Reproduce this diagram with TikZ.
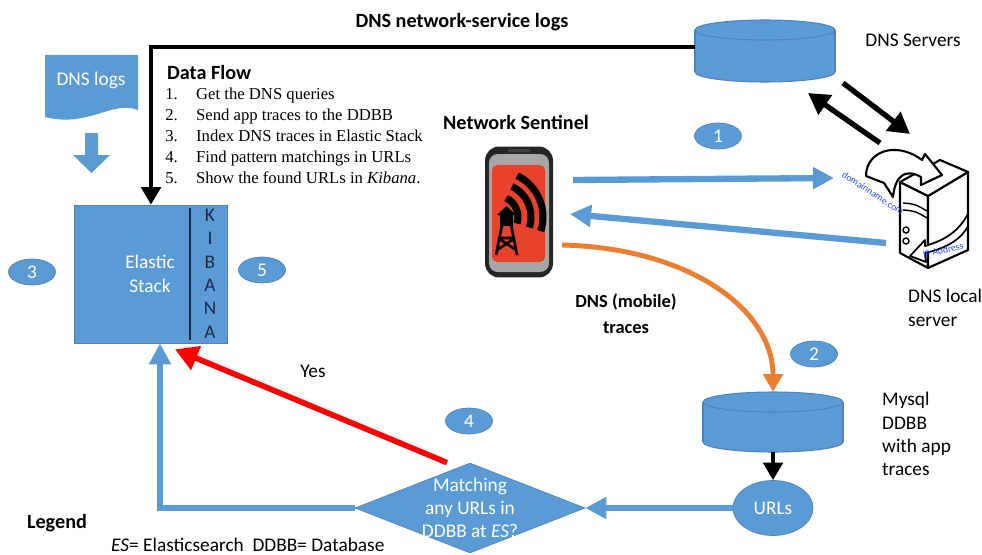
\documentclass[tikz,border=0pt]{standalone}
\usepackage{fontspec}
\setmainfont{Carlito}
\newfontfamily\serifflow{Liberation Serif}
\usetikzlibrary{shapes.geometric,arrows.meta}

\definecolor{boxblue}{HTML}{5B9BD5}
\definecolor{boxedge}{HTML}{4F81BD}
\definecolor{traceorange}{HTML}{ED7D31}
\definecolor{screenred}{HTML}{E8412C}
\definecolor{kibtext}{HTML}{1F2A44}
\definecolor{urlblue}{HTML}{2A4BF0}

\begin{document}
\begin{tikzpicture}[x=0.02cm,y=-0.02cm,font=\fontsize{11}{13.4}\selectfont]
    \tikzstyle{arrow} = [line width=2.8pt,-{Triangle[length=10pt,width=11pt]}]
    \tikzstyle{flow} = [arrow,boxblue,line width=3.6pt,-{Triangle[length=12pt,width=12pt]}]
    \tikzstyle{stepnum} = [ellipse,fill=boxblue,draw=boxedge,text=white,minimum width=0.94cm,minimum height=0.52cm,inner sep=0pt]
    \tikzstyle{db} = [fill=boxblue,draw=boxedge,line width=0.6pt]
    \tikzstyle{heading} = [font=\bfseries\fontsize{11.5}{14}\selectfont]

    \useasboundingbox (0,0) rectangle (982,554);
    \fill[white] (0,0) rectangle (982,554);

    % DNS servers
    \draw[db] (765,72) ellipse [x radius=70,y radius=10];
    \fill[boxblue] (695,30) rectangle (835,72);
    \draw[boxedge,line width=0.6pt] (695,30) -- (695,72) (835,30) -- (835,72);
    \draw[db] (765,30) ellipse [x radius=70,y radius=10];
    \node[minimum width=2.8cm,minimum height=1.24cm] (dnsservers) at (765,51) {};
    \node (dnsserverslbl) at (913,40) {DNS Servers};
    \node[heading] (title) at (462,22) {DNS network-service logs};

    % DNS logs feeding the stack
    \fill[boxblue] (45,55) -- (138,55) -- (138,110) .. controls (112,100) and (88,128) .. (45,117) -- cycle;
    \node[text=white] (dnslogs) at (91,80) {DNS logs};
    \fill[boxblue] (85,133) -- (98,133) -- (98,155) -- (110,155) -- (91.5,173) -- (73,155) -- (85,155) -- cycle;

    % data flow steps
    \node[heading,anchor=west] (flowhead) at (161,72) {Data Flow};
    \node[anchor=north west,inner sep=0pt,align=left,font=\serifflow\fontsize{9.5}{11.9}\selectfont] (flowlist) at (165,88) {%
        \makebox[17.5pt][l]{1.}Get the DNS queries\\
        \makebox[17.5pt][l]{2.}Send app traces to the DDBB\\
        \makebox[17.5pt][l]{3.}Index DNS traces in Elastic Stack\\
        \makebox[17.5pt][l]{4.}Find pattern matchings in URLs\\
        \makebox[17.5pt][l]{5.}Show the found URLs in \textit{Kibana}.};

    % Elastic Stack + Kibana
    \node[fill=boxblue,draw=boxedge,minimum width=3.06cm,minimum height=2.76cm] (elastic) at (151,274) {};
    \draw[kibtext,line width=1pt] (190,208) -- (190,340);
    \node[text=white,align=center] (elastictxt) at (150,274) {Elastic\\Stack};
    \foreach \letter [count=\i] in {K,I,B,A,N,A}
        \node[kibtext,inner sep=0pt] (kib\i) at (210,{192+23.3*\i}) {\letter};

    \draw[arrow] (dnsservers.west |- 0,47) -| (elastic.north);

    % step numbers
    \node[stepnum] (s1) at (718,136) {1};
    \node[stepnum] (s2) at (814,354) {2};
    \node[stepnum] (s3) at (32,272) {3};
    \node[stepnum] (s4) at (469,421) {4};
    \node[stepnum] (s5) at (262,270) {5};

    % phone running Network Sentinel
    \node[heading] (sentinel) at (516,122) {Network Sentinel};
    \node[fill=black!85,rounded corners=8pt,minimum width=1.36cm,minimum height=2.62cm] (phone) at (519,212) {};
    \fill[black!35,rounded corners=5pt] (489,154) rectangle (549,272);
    \fill[black!75] (508,149) rectangle (530,152);
    \fill[screenred,rounded corners=3pt] (492,165) rectangle (545,262);
    \draw[line width=1.5pt] (496,255) -- (502,225) (517,255) -- (511,225)
        (497,250) -- (515,238) (516,250) -- (498,238) (499,238) -- (514,238);
    \fill (500,214) rectangle (513,226);
    \fill (497,215) -- (506.5,206) -- (516,215) -- cycle;
    \foreach \r in {21,34,46}
        \draw[line width=4pt] (497,217) ++(-64:\r) arc (-64:18:\r);

    % DNS local server
    \node[minimum width=1.4cm,minimum height=2.2cm] (localsrv) at (934,214) {};
    \draw[line width=1.2pt,fill=white,line join=round] (900,182) -- (928,196) -- (928,268) -- (900,253) -- cycle;
    \draw[line width=1.2pt,fill=white,line join=round] (928,196) -- (968,172) -- (968,250) -- (928,268) -- cycle;
    \draw[line width=1.2pt,fill=white,line join=round] (900,182) -- (940,160) -- (968,172) -- (928,196) -- cycle;
    \draw[line width=0.8pt] (903,203) .. controls (915,204) .. (927,211) (903,210) .. controls (915,211) .. (927,218);
    \draw[line width=0.8pt] (906,230) circle [radius=3] (906,241) circle [radius=3];
    \draw[line width=1.2pt,fill=white,line join=round] (866,176) .. controls (866,152) and (895,140) .. (922,160)
        -- (925,154) -- (942,175) -- (921,185) -- (921,177) .. controls (905,168) and (895,176) .. (893,197)
        -- (884,183) -- cycle;
    \draw[line width=1pt,fill=white,line join=round] (968,214) .. controls (958,232) and (945,240) .. (925,246)
        -- (925,240) -- (910,256) -- (926,262) -- (925,253) .. controls (948,248) and (962,238) .. (968,226) -- cycle;
    \node[urlblue,rotate=-33,inner sep=0pt,font=\fontsize{5.5}{6}\selectfont] (domain) at (873,193) {domainname.com};
    \node[urlblue,rotate=13,inner sep=0pt,font=\fontsize{5.5}{6}\selectfont] (ipaddr) at (943,250) {IP Address};
    \node[anchor=west,align=left,font=\fontsize{11}{13.6}\selectfont] (locallbl) at (902,308) {DNS local\\server};

    % query / answer between phone and local server
    \coordinate (qrystart) at (573,180);
    \coordinate (qryend) at (834,178);
    \coordinate (ansstart) at (886,243);
    \coordinate (ansend) at (570,214);
    \draw[flow] (qrystart) -- (qryend);
    \draw[flow] (ansstart) -- (ansend);

    % local server <-> DNS servers
    \coordinate (fwdstart) at (843,83);
    \coordinate (fwdend) at (910,134);
    \coordinate (backstart) at (880,143);
    \coordinate (backend) at (808,93);
    \draw[arrow,line width=3pt,-{Triangle[length=12pt,width=13pt]}] (fwdstart) -- (fwdend);
    \draw[arrow,line width=3pt,-{Triangle[length=12pt,width=13pt]}] (backstart) -- (backend);

    % Mysql DDBB
    \draw[db] (773,442) ellipse [x radius=70,y radius=10];
    \fill[boxblue] (703,402) rectangle (843,442);
    \draw[boxedge,line width=0.6pt] (703,402) -- (703,442) (843,402) -- (843,442);
    \draw[db] (773,402) ellipse [x radius=70,y radius=10];
    \node[minimum width=2.8cm,minimum height=1.2cm] (mysql) at (773,422) {};
    \node[anchor=north west,align=left,font=\fontsize{11}{13.3}\selectfont] (mysqllbl) at (876,386) {Mysql\\DDBB\\with app\\traces};

    % traces from the phone to Mysql
    \coordinate (tracestart) at (562,245);
    \draw[arrow,traceorange] (tracestart) .. controls (690,248) and (773,310) .. (mysql.north);
    \node[font=\bfseries\fontsize{10.5}{14.7}\selectfont,align=center] (traceslbl) at (626,314) {DNS (mobile)\\traces};

    % URLs and the matching test
    \node[ellipse,fill=boxblue,draw=boxedge,text=white,minimum width=1.6cm,minimum height=1.1cm,inner sep=0pt] (urls) at (773,508) {URLs};
    \draw[arrow] (mysql.south) -- (urls.north);
    \node[diamond,fill=boxblue,draw=boxedge,minimum width=4.6cm,minimum height=1.8cm,inner sep=0pt] (match) at (470,508) {};
    \node[text=white,align=center,font=\fontsize{11}{13}\selectfont] (matchtxt) at (470,508) {Matching\\any URLs in\\DDBB at \textit{ES}?};
    \draw[flow] (urls.west) -- (match.east);
    \draw[flow] (match.west) -| ([xshift=0.18cm]elastic.south);
    \draw[arrow,red,line width=3.2pt,-{Triangle[length=13pt,width=14pt]}] ([xshift=-0.46cm]match.north) -- ([xshift=0.48cm,yshift=-0.12cm]elastic.south);
    \node (yes) at (313,371) {Yes};

    % legend
    \node[heading] (legend) at (57,523) {Legend};
    \node[anchor=west] (legendtxt) at (105,545) {\textit{ES}= Elasticsearch~ DDBB= Database};
\end{tikzpicture}
\end{document}
